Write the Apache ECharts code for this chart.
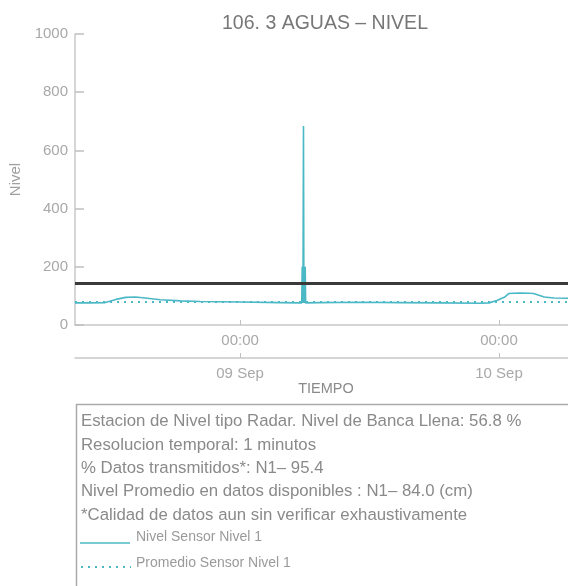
<!DOCTYPE html>
<html><head><meta charset="utf-8">
<script src="https://cdn.jsdelivr.net/npm/echarts@6/dist/echarts.min.js"></script>
<style>html,body{margin:0;padding:0;background:#fff}#c{width:568px;height:586px}</style>
</head><body><div id="c"></div>
<script>
// Hours relative to 09 Sep 00:00
const levelHours  = [-15.3, -13.9, -12.5, -11.5, -10.6, -9.7, -8.8, -7.4, -5.5, -3.7, 0, 3.7, 5.5, 5.72, 5.76, 5.80, 5.84, 5.88, 5.92, 5.96, 6.0, 6.04, 6.08, 7.4, 11.1, 14.8, 18.5, 22.2, 23.1, 23.8, 24.5, 24.9, 25.9, 26.8, 27.2, 28.2, 29.1, 30.4];
const levelValues = [76, 76, 77, 88, 95, 96, 93, 87, 83, 81, 79, 77, 76, 76, 200, 76, 200, 684, 76, 200, 76, 200, 76, 77, 78, 77, 76, 75, 76, 84, 95, 108, 110, 109, 108, 96, 93, 92];
const avgHours  = [-15.3, 30.4];
const avgValues = [79, 79];
const bankfullLevel = 145;
const xTickHours = [0, 24];
const timeLabels = ['00:00', '00:00'];
const dateLabels = ['09 Sep', '10 Sep'];
const seriesNames = ['Nivel Sensor Nivel 1', 'Promedio Sensor Nivel 1'];
const infoLines = [
  'Estacion de Nivel tipo Radar. Nivel de Banca Llena: 56.8 %',
  'Resolucion temporal: 1 minutos',
  '% Datos transmitidos*: N1\u2013 95.4',
  'Nivel Promedio en datos disponibles : N1\u2013 84.0 (cm)',
  '*Calidad de datos aun sin verificar exhaustivamente'
];

const FONT = 'Liberation Sans, Arial, sans-serif';
const TEAL = '#4bb8c6';
const chart = echarts.init(document.getElementById('c'), null, {renderer: 'canvas'});
const pair = (xs, ys) => xs.map((x, i) => [x, ys[i]]);

const infoGraphics = infoLines.map((t, i) => ({
  type: 'text',
  style: {x: 81, y: 421.5 + i * 23.4, verticalAlign: 'middle', text: t, fill: '#8a8a8a', font: '16.8px ' + FONT}
}));
const legendGraphics = [
  {type: 'line', shape: {x1: 80, y1: 543, x2: 130, y2: 543}, style: {stroke: TEAL, lineWidth: 1.6}},
  {type: 'text', style: {x: 136, y: 537.5, verticalAlign: 'middle', text: seriesNames[0], fill: '#9a9a9a', font: '14px ' + FONT}},
  {type: 'line', shape: {x1: 81, y1: 567, x2: 131, y2: 567}, style: {stroke: TEAL, lineWidth: 2, lineDash: [2, 5]}},
  {type: 'text', style: {x: 136, y: 563, verticalAlign: 'middle', text: seriesNames[1], fill: '#9a9a9a', font: '14px ' + FONT}}
];

chart.setOption({
  animation: false,
  backgroundColor: '#fff',
  textStyle: {fontFamily: FONT},
  title: {
    text: '106. 3 AGUAS \u2013 NIVEL', left: 320, top: 9, textAlign: 'center',
    textStyle: {fontSize: 19.5, fontWeight: 'normal', color: '#777', fontFamily: FONT}
  },
  grid: {left: 75, right: 0, top: 34, bottom: 261, containLabel: false, outerBoundsMode: 'none'},
  xAxis: [{
    type: 'value', min: -15.3, max: 30.4,
    axisLine: {onZero: false, lineStyle: {color: '#c8c8c8', width: 1.5}},
    axisTick: {inside: true, length: 5, customValues: xTickHours, lineStyle: {color: '#c0c0c0'}},
    axisLabel: {customValues: xTickHours, margin: 8, color: '#a8a8a8', fontSize: 15,
      formatter: v => timeLabels[xTickHours.indexOf(v)] || ''},
    splitLine: {show: false}
  }, {
    type: 'value', min: -15.3, max: 30.4, position: 'bottom', offset: 33,
    axisLine: {onZero: false, lineStyle: {color: '#c8c8c8', width: 1.5}},
    axisTick: {inside: true, length: 5, customValues: xTickHours, lineStyle: {color: '#c0c0c0'}},
    axisLabel: {customValues: xTickHours, margin: 8, color: '#a8a8a8', fontSize: 15,
      formatter: v => dateLabels[xTickHours.indexOf(v)] || ''},
    splitLine: {show: false}
  }],
  yAxis: {
    type: 'value', min: 0, max: 1000, interval: 200,
    name: 'Nivel', nameLocation: 'middle', nameGap: 50, nameRotate: 90,
    nameTextStyle: {color: '#a0a0a0', fontSize: 15},
    axisLine: {show: true, onZero: false, lineStyle: {color: '#c8c8c8', width: 1.5}},
    axisTick: {show: true, inside: true, length: 9, lineStyle: {color: '#c0c0c0', width: 1.5}},
    axisLabel: {color: '#a8a8a8', fontSize: 15, margin: 7, formatter: v => String(v)},
    splitLine: {show: false}
  },
  series: [{
    name: seriesNames[0], type: 'line', data: pair(levelHours, levelValues),
    showSymbol: false, symbol: 'none',
    lineStyle: {color: TEAL, width: 1.6}, itemStyle: {color: TEAL},
    markLine: {
      silent: true, symbol: 'none', label: {show: false},
      lineStyle: {color: '#3a3a3a', width: 3, type: 'solid'},
      data: [{yAxis: bankfullLevel}]
    }
  }, {
    name: seriesNames[1], type: 'line', data: pair(avgHours, avgValues),
    showSymbol: false, symbol: 'none',
    lineStyle: {color: TEAL, width: 2, type: [2, 5]}, itemStyle: {color: TEAL}
  }],
  graphic: [
    {type: 'text', style: {x: 326, y: 389, align: 'center', verticalAlign: 'middle', text: 'TIEMPO', fill: '#8a8a8a', font: '14.5px ' + FONT}},
    {type: 'rect', left: 74, top: 402, shape: {width: 520, height: 200},
      style: {fill: 'none', stroke: '#aaa', lineWidth: 1.5}, z: -1}
  ].concat(infoGraphics, legendGraphics)
});
</script></body></html>
